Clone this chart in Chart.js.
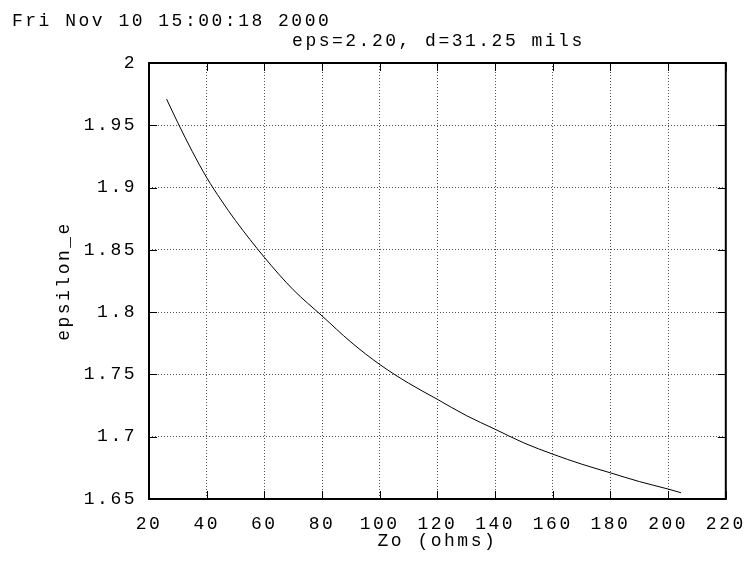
<!DOCTYPE html>
<html>
<head>
<meta charset="utf-8">
<script src="https://cdn.jsdelivr.net/npm/chart.js@4/dist/chart.umd.min.js"></script>
<style>
  html, body { margin: 0; padding: 0; background: #fff; }
  #wrap { width: 756px; height: 562px; }
</style>
</head>
<body>
<div id="wrap"><canvas id="miGrafico"></canvas></div>
<script>
// values
const zoValues  = [26.1, 30, 35, 40, 45, 50, 60, 70, 80, 90, 100, 110, 120, 130, 140, 150, 160, 170, 180, 190, 200, 204.5];
const epsValues = [1.971, 1.952, 1.929, 1.908, 1.890, 1.8735, 1.844, 1.818, 1.797, 1.776, 1.758, 1.743, 1.730, 1.717, 1.706, 1.695, 1.686, 1.678, 1.671, 1.664, 1.658, 1.655];

const stampText = 'Fri Nov 10 15:00:18 2000';
const titleText = 'eps=2.20, d=31.25 mils';
const xTitle = 'Zo (ohms)';
const yTitle = 'epsilon_e';

const fuente = '"Liberation Mono", "Courier New", monospace';
const tam = 18;
const espacio = '2.5px';

const puntos = [];
for (let i = 0; i < zoValues.length; i++) {
    puntos.push({ x: zoValues[i], y: epsValues[i] });
}

// gnuplot-like frame, inward ticks and the two text lines on top
const marcoPlugin = {
    id: 'marco',
    beforeDraw(chart) {
        chart.ctx.letterSpacing = espacio;
    },
    afterDraw(chart) {
        const ctx = chart.ctx;
        const a = chart.chartArea;
        const sx = chart.scales.x;
        const sy = chart.scales.y;
        ctx.save();
        ctx.strokeStyle = '#000';
        ctx.lineWidth = 1;
        ctx.beginPath();
        for (let t of sx.ticks) {
            let px = Math.round(sx.getPixelForValue(t.value)) + 0.5;
            ctx.moveTo(px, a.bottom); ctx.lineTo(px, a.bottom - 8);
            ctx.moveTo(px, a.top); ctx.lineTo(px, a.top + 8);
        }
        for (let t of sy.ticks) {
            let py = Math.round(sy.getPixelForValue(t.value)) + 0.5;
            ctx.moveTo(a.left, py); ctx.lineTo(a.left + 8, py);
            ctx.moveTo(a.right, py); ctx.lineTo(a.right - 8, py);
        }
        ctx.stroke();
        ctx.lineWidth = 2;
        ctx.strokeRect(a.left, a.top, a.right - a.left, a.bottom - a.top);

        ctx.fillStyle = '#000';
        ctx.font = tam + 'px ' + fuente;
        ctx.letterSpacing = espacio;
        ctx.textBaseline = 'alphabetic';
        ctx.textAlign = 'left';
        ctx.fillText(stampText, 12, 26);
        ctx.textAlign = 'center';
        ctx.fillText(titleText, (a.left + a.right) / 2 + 1, 46);
        ctx.restore();
    }
};

const config = {
    type: 'scatter',
    data: {
        datasets: [{
            data: puntos,
            showLine: true,
            borderColor: '#000',
            borderWidth: 1,
            pointRadius: 0,
            cubicInterpolationMode: 'monotone',
            fill: false
        }]
    },
    options: {
        responsive: true,
        maintainAspectRatio: false,
        animation: false,
        layout: { padding: { top: 63, right: 24, left: 0, bottom: 0 } },
        plugins: {
            legend: { display: false },
            tooltip: { enabled: false }
        },
        scales: {
            x: {
                type: 'linear',
                min: 20,
                max: 220,
                afterFit(scale) { scale.height = 63; },
                ticks: { stepSize: 20, color: '#000', padding: 14, maxRotation: 0, font: { family: fuente, size: tam } },
                grid: { color: '#555', lineWidth: 1, drawTicks: false },
                border: { display: false, dash: [1, 2] },
                title: { display: true, text: xTitle, color: '#000', font: { family: fuente, size: tam }, padding: { top: 0, bottom: 10 } }
            },
            y: {
                type: 'linear',
                min: 1.65,
                max: 2,
                afterFit(scale) { scale.width = 149; },
                ticks: { stepSize: 0.05, color: '#000', padding: 12, font: { family: fuente, size: tam },
                    callback: function(v) { return parseFloat(v.toFixed(2)).toString(); } },
                grid: { color: '#555', lineWidth: 1, drawTicks: false },
                border: { display: false, dash: [1, 2] },
                title: { display: true, text: yTitle, color: '#000', font: { family: fuente, size: tam }, padding: { top: 53, bottom: 0 } }
            }
        }
    },
    plugins: [marcoPlugin]
};

const grafico = new Chart(document.getElementById('miGrafico'), config);
</script>
</body>
</html>
